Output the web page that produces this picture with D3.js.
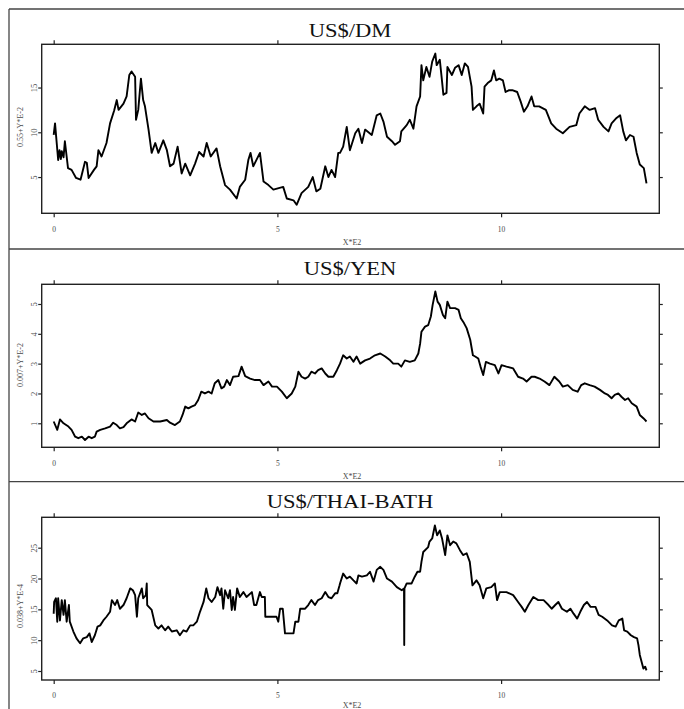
<!DOCTYPE html>
<html>
<head>
<meta charset="utf-8">
<script src="https://cdn.jsdelivr.net/npm/d3@7"></script>
<style>
body { margin: 0; background: #fff; }
svg { display: block; }
.tick text { font-family: "Liberation Serif", "Times New Roman", serif; fill: #4a4a4a; }
</style>
</head>
<body>
<svg id="chart" width="684" height="709"></svg>
<script>
var xTicks = [0, 5, 10];
var dmTicks = [5, 10, 15];
var yenTicks = [1, 2, 3, 4, 5];
var thaiTicks = [5, 10, 15, 20, 25];

var titles = ["US$/DM", "US$/YEN", "US$/THAI-BATH"];
var yLabels = ["0.55+Y*E-2", "0.007+Y*E-2", "0.038+Y*E-4"];

var dmData = [
  [0, 9.7], [0.03, 11.0], [0.1, 6.9], [0.13, 8.0], [0.16, 7.0], [0.18, 7.9], [0.22, 7.2], [0.25, 9.0],
  [0.32, 6.0], [0.4, 5.8],
  [0.5, 4.9], [0.6, 4.7], [0.7, 6.7], [0.74, 6.6], [0.78, 4.9], [0.9, 5.8], [0.96, 6.2],
  [1.0, 8.0], [1.07, 7.3], [1.18, 8.8], [1.26, 11.0], [1.35, 12.4], [1.41, 13.6], [1.45, 12.5],
  [1.56, 13.2], [1.63, 14.0], [1.69, 16.4], [1.74, 16.8], [1.82, 16.2], [1.84, 11.4], [1.89, 12.5],
  [1.95, 16.0], [2.0, 13.6], [2.04, 12.9], [2.12, 10.3], [2.19, 7.7], [2.27, 8.8], [2.34, 7.7],
  [2.45, 9.1], [2.53, 8.0], [2.6, 6.2], [2.68, 6.5], [2.77, 8.4], [2.86, 5.4], [2.94, 6.5],
  [3.05, 5.2], [3.16, 6.5], [3.25, 7.8], [3.35, 7.3], [3.42, 8.8], [3.51, 7.3], [3.64, 8.2],
  [3.72, 6.2], [3.83, 4.1], [3.94, 3.6], [4.09, 2.6], [4.16, 3.9], [4.28, 4.7], [4.35, 6.9],
  [4.4, 7.7], [4.46, 6.2], [4.61, 7.7], [4.69, 4.5], [4.8, 4.1], [4.91, 3.6], [5.13, 3.9],
  [5.21, 2.6], [5.36, 2.4], [5.43, 1.9], [5.54, 3.2], [5.69, 3.9], [5.79, 5.0], [5.87, 3.4],
  [5.96, 3.7], [6.07, 6.2], [6.14, 5.0], [6.21, 5.8], [6.29, 5.0], [6.36, 7.7], [6.4, 7.7],
  [6.47, 8.4], [6.55, 10.6], [6.62, 8.0], [6.74, 9.9], [6.81, 10.4], [6.89, 8.8], [6.96, 10.3],
  [7.11, 9.7], [7.22, 11.9], [7.3, 12.1], [7.37, 11.2], [7.45, 9.5], [7.56, 9.0], [7.63, 8.6],
  [7.74, 9.0], [7.77, 10.1], [7.89, 10.8], [7.96, 11.4], [8.04, 10.4], [8.11, 12.9], [8.19, 14.0],
  [8.22, 17.5], [8.26, 15.8], [8.33, 17.3], [8.4, 16.2], [8.46, 17.9], [8.53, 18.8], [8.56, 17.5],
  [8.63, 18.1], [8.67, 16.2], [8.71, 14.2], [8.78, 14.4], [8.8, 17.3], [8.9, 16.4], [8.97, 17.2],
  [9.05, 17.5], [9.12, 16.4], [9.19, 17.7], [9.26, 17.3], [9.34, 15.1], [9.37, 12.5], [9.45, 12.9],
  [9.52, 13.2], [9.6, 12.1], [9.63, 15.1], [9.7, 15.5], [9.78, 15.8], [9.84, 16.9], [9.89, 15.8],
  [9.96, 16.0], [10.04, 15.8], [10.1, 14.5], [10.18, 14.7], [10.25, 14.7], [10.36, 14.5], [10.44, 13.4],
  [10.51, 12.3], [10.59, 12.9], [10.68, 14.0], [10.74, 12.9], [10.85, 12.9], [11.0, 12.5], [11.12, 11.0],
  [11.23, 10.4], [11.38, 9.9], [11.53, 10.6], [11.68, 10.8], [11.75, 12.1], [11.87, 12.9], [11.98, 12.5],
  [12.1, 12.7], [12.17, 11.4], [12.29, 10.6], [12.4, 10.1], [12.47, 11.0], [12.58, 11.6], [12.66, 11.9],
  [12.73, 10.1], [12.79, 9.1], [12.88, 9.7], [12.96, 9.5], [13.03, 7.7], [13.1, 6.4], [13.19, 6.0],
  [13.25, 4.3]
];

var yenData = [
  [0, 1.06], [0.08, 0.78], [0.14, 1.13], [0.22, 1.0], [0.33, 0.89], [0.4, 0.78], [0.48, 0.55],
  [0.55, 0.5], [0.63, 0.55], [0.7, 0.44], [0.78, 0.55], [0.85, 0.5], [0.92, 0.55], [0.96, 0.72],
  [1.04, 0.78], [1.15, 0.83], [1.26, 0.89], [1.33, 1.02], [1.41, 0.94], [1.48, 0.83], [1.56, 0.87],
  [1.63, 1.0], [1.74, 1.13], [1.82, 1.06], [1.89, 1.36], [1.97, 1.28], [2.04, 1.33], [2.12, 1.17],
  [2.23, 1.06], [2.38, 1.06], [2.53, 1.11], [2.6, 1.02], [2.71, 0.94], [2.82, 1.06], [2.88, 1.28],
  [2.94, 1.56], [3.01, 1.5], [3.08, 1.56], [3.16, 1.61], [3.23, 1.78], [3.3, 2.06], [3.38, 2.0],
  [3.46, 2.06], [3.53, 2.0], [3.6, 2.34], [3.68, 2.45], [3.75, 2.17], [3.81, 2.23], [3.87, 2.45],
  [3.94, 2.28], [4.01, 2.56], [4.13, 2.58], [4.2, 2.9], [4.28, 2.58], [4.39, 2.5], [4.5, 2.45],
  [4.61, 2.45], [4.69, 2.28], [4.8, 2.4], [4.88, 2.23], [4.99, 2.23], [5.1, 2.06], [5.21, 1.84],
  [5.32, 2.0], [5.4, 2.23], [5.47, 2.73], [5.54, 2.56], [5.62, 2.5], [5.69, 2.56], [5.76, 2.73],
  [5.84, 2.67], [5.91, 2.78], [5.99, 2.84], [6.07, 2.67], [6.14, 2.56], [6.25, 2.56], [6.33, 2.78],
  [6.4, 3.0], [6.47, 3.28], [6.55, 3.17], [6.62, 3.24], [6.7, 3.06], [6.77, 3.24], [6.85, 3.0],
  [6.96, 3.11], [7.07, 3.17], [7.18, 3.28], [7.3, 3.34], [7.41, 3.24], [7.52, 3.11], [7.59, 3.0],
  [7.7, 3.0], [7.77, 2.9], [7.85, 3.11], [7.96, 3.06], [8.07, 3.11], [8.15, 3.34], [8.19, 3.67],
  [8.22, 4.07], [8.3, 4.24], [8.37, 4.29], [8.43, 4.58], [8.47, 4.97], [8.53, 5.42], [8.58, 5.08],
  [8.63, 4.97], [8.7, 4.63], [8.75, 4.52], [8.8, 5.08], [8.86, 4.86], [8.97, 4.86], [9.05, 4.8],
  [9.1, 4.52], [9.17, 4.36], [9.23, 4.19], [9.31, 3.8], [9.37, 3.28], [9.42, 3.24], [9.49, 3.17],
  [9.54, 2.9], [9.6, 2.62], [9.66, 3.06], [9.75, 3.0], [9.86, 2.95], [9.94, 2.67], [10.01, 2.95],
  [10.12, 2.9], [10.27, 2.84], [10.38, 2.56], [10.49, 2.5], [10.57, 2.4], [10.68, 2.56], [10.75, 2.56],
  [10.86, 2.5], [10.97, 2.4], [11.08, 2.28], [11.19, 2.56], [11.3, 2.4], [11.38, 2.23], [11.49, 2.28],
  [11.6, 2.12], [11.71, 2.06], [11.79, 2.28], [11.87, 2.34], [11.98, 2.28], [12.09, 2.23], [12.21, 2.12],
  [12.32, 2.0], [12.39, 1.95], [12.47, 1.84], [12.54, 1.95], [12.62, 2.0], [12.69, 1.89], [12.77, 1.78],
  [12.84, 1.84], [12.92, 1.67], [13.03, 1.56], [13.1, 1.28], [13.18, 1.17], [13.25, 1.06]
];

var thaiData = [
  [0, 14.3], [0.01, 16.2], [0.05, 16.8], [0.08, 13.0], [0.1, 16.8], [0.14, 13.2], [0.18, 16.5],
  [0.22, 14.1], [0.25, 16.5], [0.29, 13.0], [0.34, 15.7], [0.36, 13.0], [0.44, 11.4], [0.51, 10.3],
  [0.59, 9.5], [0.66, 10.3], [0.74, 10.5], [0.8, 11.1], [0.85, 9.7], [0.92, 10.8], [0.98, 12.2],
  [1.04, 12.4], [1.11, 13.2], [1.18, 13.8], [1.26, 14.6], [1.3, 16.5], [1.37, 15.7], [1.42, 16.5],
  [1.48, 15.1], [1.56, 15.7], [1.63, 16.8], [1.71, 18.4], [1.77, 18.1], [1.82, 17.3], [1.86, 13.8],
  [1.89, 16.8], [1.97, 18.4], [2.0, 16.8], [2.06, 17.3], [2.08, 19.2], [2.09, 15.7], [2.19, 14.9],
  [2.27, 12.4], [2.34, 11.9], [2.41, 12.4], [2.49, 11.6], [2.56, 12.2], [2.64, 11.4], [2.75, 11.6],
  [2.82, 10.8], [2.9, 11.6], [2.97, 11.4], [3.05, 12.4], [3.12, 12.4], [3.2, 13.0], [3.27, 14.6],
  [3.35, 16.2], [3.41, 18.4], [3.46, 16.8], [3.53, 16.2], [3.61, 17.0], [3.66, 18.6], [3.72, 17.3],
  [3.75, 18.4], [3.79, 15.1], [3.83, 18.1], [3.9, 16.8], [3.94, 18.1], [3.98, 14.9], [4.01, 17.0],
  [4.05, 14.9], [4.1, 18.4], [4.16, 17.0], [4.24, 17.8], [4.31, 17.0], [4.43, 17.8], [4.48, 15.7],
  [4.53, 15.7], [4.61, 17.8], [4.65, 17.0], [4.72, 17.0], [4.73, 13.8], [4.98, 13.8], [5.02, 13.0],
  [5.06, 15.1], [5.12, 15.1], [5.17, 11.1], [5.36, 11.1], [5.4, 13.0], [5.47, 13.0], [5.51, 15.1],
  [5.62, 15.1], [5.69, 15.7], [5.76, 16.5], [5.84, 15.7], [5.91, 16.5], [5.99, 16.8], [6.07, 17.8],
  [6.14, 17.0], [6.21, 16.8], [6.29, 17.6], [6.34, 17.6], [6.39, 18.9], [6.4, 19.2], [6.47, 20.8],
  [6.55, 20.0], [6.62, 20.3], [6.7, 19.7], [6.77, 19.2], [6.81, 20.5], [6.89, 20.3], [7.0, 20.5],
  [7.07, 21.1], [7.15, 19.5], [7.22, 21.4], [7.3, 21.9], [7.37, 21.4], [7.45, 20.0], [7.56, 19.5],
  [7.67, 18.6], [7.78, 18.1], [7.83, 18.4], [7.835, 9.2], [7.84, 18.4], [7.89, 19.2], [8.0, 19.2],
  [8.07, 20.3], [8.13, 21.1], [8.19, 21.1], [8.22, 22.7], [8.26, 24.3], [8.37, 25.1], [8.4, 26.0],
  [8.46, 26.5], [8.52, 28.6], [8.57, 27.0], [8.63, 27.8], [8.68, 26.5], [8.75, 23.8], [8.8, 27.0],
  [8.86, 25.4], [8.93, 26.0], [9.0, 25.7], [9.08, 24.6], [9.15, 23.8], [9.23, 24.1], [9.3, 22.7],
  [9.36, 18.9], [9.45, 19.7], [9.52, 18.9], [9.6, 16.8], [9.67, 18.4], [9.78, 18.6], [9.86, 19.2],
  [9.91, 16.5], [9.97, 17.8], [10.12, 17.8], [10.27, 17.3], [10.38, 16.2], [10.46, 15.4], [10.53, 14.6],
  [10.61, 15.7], [10.72, 17.0], [10.83, 16.5], [10.95, 16.5], [11.06, 15.7], [11.13, 15.1], [11.21, 15.7],
  [11.28, 16.2], [11.36, 15.1], [11.47, 14.6], [11.55, 15.1], [11.62, 14.3], [11.7, 13.5], [11.77, 14.6],
  [11.85, 15.7], [11.92, 16.2], [12.0, 15.4], [12.11, 15.4], [12.18, 14.1], [12.26, 13.8], [12.37, 13.2],
  [12.48, 12.4], [12.56, 12.2], [12.63, 13.2], [12.71, 13.5], [12.75, 11.6], [12.82, 11.4], [12.9, 10.8],
  [12.97, 10.5], [13.04, 10.3], [13.07, 9.2], [13.1, 7.6], [13.14, 6.5], [13.18, 5.4], [13.22, 5.7],
  [13.25, 5.1]
];

var svg = d3.select("#chart");
var serif = "'Liberation Serif', 'Times New Roman', serif";
var intFormat = d3.format("d");

// page frame: top and left rule plus the separators between panels
svg.append("line").attr("x1", 9).attr("x2", 684).attr("y1", 9).attr("y2", 9);
svg.append("line").attr("x1", 9).attr("x2", 9).attr("y1", 9).attr("y2", 709);
svg.append("line").attr("x1", 9).attr("x2", 684).attr("y1", 249).attr("y2", 249);
svg.append("line").attr("x1", 9).attr("x2", 684).attr("y1", 481.7).attr("y2", 481.7);
svg.selectAll("line").attr("stroke", "#444").attr("stroke-width", 1.3);

var x = d3.scaleLinear().domain([-0.268, 13.536]).range([41.7, 659.3]);

var panels = [
  {data: dmData, ticks: dmTicks, domain: [0.95, 19.83], top: 44.3, bottom: 213.3, titleY: 37.3, labelY: 127, xNameY: 245},
  {data: yenData, ticks: yenTicks, domain: [0.195, 5.66], top: 284.3, bottom: 447.3, titleY: 275, labelY: 365, xNameY: 479},
  {data: thaiData, ticks: thaiTicks, domain: [3.54, 29.93], top: 517.3, bottom: 680, titleY: 507.5, labelY: 606, xNameY: 708}
];

panels.forEach(function(p, i) {
  var y = d3.scaleLinear().domain(p.domain).range([p.bottom, p.top]);
  var g = svg.append("g");

  var line = d3.line()
    .x(function(d) { return x(d[0]); })
    .y(function(d) { return y(d[1]); });

  g.append("path")
    .datum(p.data)
    .attr("d", line)
    .attr("fill", "none")
    .attr("stroke", "#000")
    .attr("stroke-width", 1.9)
    .attr("stroke-linejoin", "round");

  g.append("rect")
    .attr("x", x.range()[0])
    .attr("y", p.top)
    .attr("width", x.range()[1] - x.range()[0])
    .attr("height", p.bottom - p.top)
    .attr("fill", "none")
    .attr("stroke", "#222")
    .attr("stroke-width", 1.4);

  // bottom axis with labels, top axis ticks only
  var bottomAxis = g.append("g")
    .attr("transform", "translate(0," + p.bottom + ")")
    .call(d3.axisBottom(x).tickValues(xTicks).tickSize(4).tickPadding(9).tickFormat(intFormat));
  bottomAxis.selectAll("text").attr("font-size", 7.5);

  g.append("g")
    .attr("transform", "translate(0," + p.top + ")")
    .call(d3.axisTop(x).tickValues(xTicks).tickSize(4).tickFormat(""));

  // left axis with rotated labels, right axis ticks only
  var leftAxis = g.append("g")
    .attr("transform", "translate(" + x.range()[0] + ",0)")
    .call(d3.axisLeft(y).tickValues(p.ticks).tickSize(3.5).tickFormat(intFormat));
  leftAxis.selectAll("text")
    .attr("x", null)
    .attr("dy", null)
    .attr("text-anchor", "middle")
    .attr("font-size", 8.5)
    .attr("transform", "translate(-5,0) rotate(-90)");

  g.append("g")
    .attr("transform", "translate(" + x.range()[1] + ",0)")
    .call(d3.axisRight(y).tickValues(p.ticks).tickSize(3.5).tickFormat(""));

  g.selectAll(".domain").remove();
  g.selectAll(".tick line").attr("stroke", "#222").attr("stroke-width", 1.2);

  // title
  g.append("text")
    .attr("transform", "translate(350," + p.titleY + ") scale(1.22,1)")
    .attr("text-anchor", "middle")
    .attr("font-family", serif)
    .attr("font-size", 18.5)
    .attr("fill", "#111")
    .text(titles[i]);

  // axis names
  g.append("text")
    .attr("x", 352)
    .attr("y", p.xNameY)
    .attr("text-anchor", "middle")
    .attr("font-family", serif)
    .attr("font-size", 8)
    .attr("fill", "#4a4a4a")
    .text("X*E2");

  g.append("text")
    .attr("transform", "translate(23.3," + p.labelY + ") rotate(-90)")
    .attr("text-anchor", "middle")
    .attr("font-family", serif)
    .attr("font-size", 8)
    .attr("fill", "#4a4a4a")
    .text(yLabels[i]);
});
</script>
</body>
</html>
